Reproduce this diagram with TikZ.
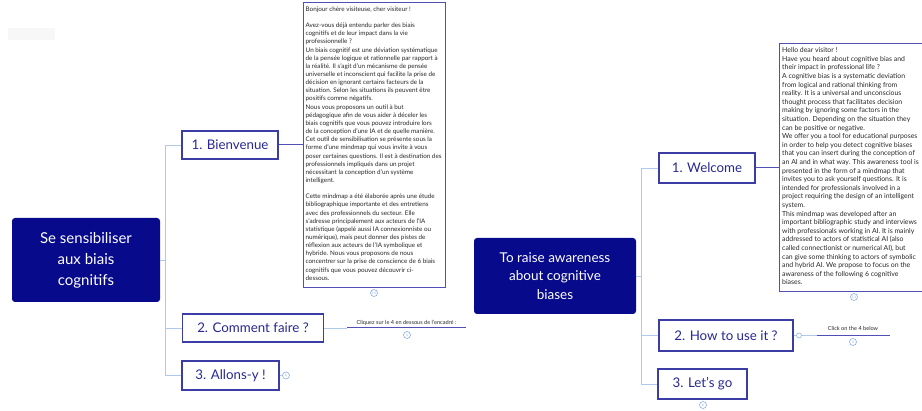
\documentclass[tikz,border=0pt]{standalone}
\usepackage{fontspec}
\setmainfont{Lato}
\definecolor{navy}{RGB}{8,10,140}
\definecolor{boxblue}{RGB}{60,60,165}
\definecolor{labelblue}{RGB}{40,40,150}
\definecolor{trunk}{RGB}{176,200,236}
\definecolor{textframe}{RGB}{80,80,180}
\definecolor{badgecol}{RGB}{140,175,230}
\definecolor{bodygray}{RGB}{40,40,40}
\tikzset{
 rootbox/.style={fill=navy, rounded corners=3pt, text=white, align=center, inner sep=0},
 branch/.style={draw=boxblue, line width=1.1pt, fill=white, text=labelblue, font=\fontsize{13.3}{15}\selectfont, inner sep=0},
 trunkline/.style={draw=trunk, line width=0.9pt},
 linkline/.style={draw=textframe, line width=1pt},
 frame/.style={draw=textframe, line width=1.2pt, fill=white, inner sep=0},
 bodytext/.style={anchor=north west, inner sep=0, align=left, text=bodygray},
 badge/.style={circle, draw=badgecol, line width=0.6pt, fill=white, minimum size=7pt, inner sep=0, text=badgecol, font=\fontsize{3.5}{4}\selectfont},
 hint/.style={font=\fontsize{5.6}{6}\selectfont, text=bodygray, inner sep=0},
}
\begin{document}
\begin{tikzpicture}[x=1pt,y=-1pt]
\useasboundingbox (0,0) rectangle (922,411);
\fill[black!3] (8,28) rectangle (55,40);

% ---------------- French tree ----------------
\coordinate (frT) at (165,0);
\node[rootbox, minimum width=148, minimum height=84, font=\fontsize{15}{21}\selectfont] (frroot) at (86,260) {Se sensibiliser\\aux biais\\cognitifs};
\node[branch, minimum width=96, minimum height=28] (frwel) at (230,145) {1. Bienvenue};
\node[branch, minimum width=141, minimum height=28] (frhow) at (253,328) {2. Comment faire ?};
\node[branch, minimum width=97, minimum height=29] (frgo) at (230.5,375.5) {3. Allons-y !};

\draw[trunkline] (frroot.east) -- (frroot.east -| frT);
\draw[trunkline] (frwel.west) -- (frwel.west -| frT) -- (frgo.west -| frT) -- (frgo.west);
\draw[trunkline] (frhow.west) -- (frhow.west -| frT);

\node[frame, minimum width=142, minimum height=285, anchor=north west] (frtext) at (303,2) {};
\draw[linkline] (frwel.east) -- (frtext.west |- frwel.east);
\node[bodytext, font=\fontsize{6.3}{8.15}\selectfont] (frbody) at (305.5,6.5) {Bonjour chère visiteuse, cher visiteur !\\[8.15pt]
Avez-vous déjà entendu parler des biais\\
cognitifs et de leur impact dans la vie\\
professionnelle ?\\
Un biais cognitif est une déviation systématique\\
de la pensée logique et rationnelle par rapport à\\
la réalité. Il s'agit d'un mécanisme de pensée\\
universelle et inconscient qui facilite la prise de\\
décision en ignorant certains facteurs de la\\
situation. Selon les situations ils peuvent être\\
positifs comme négatifs.\\
Nous vous proposons un outil à but\\
pédagogique afin de vous aider à déceler les\\
biais cognitifs que vous pouvez introduire lors\\
de la conception d'une IA et de quelle manière.\\
Cet outil de sensibilisation se présente sous la\\
forme d'une mindmap qui vous invite à vous\\
poser certaines questions. Il est à destination des\\
professionnels impliqués dans un projet\\
nécessitant la conception d'un système\\
intelligent.\\[8.15pt]
Cette mindmap a été élaborée après une étude\\
bibliographique importante et des entretiens\\
avec des professionnels du secteur. Elle\\
s'adresse principalement aux acteurs de l'IA\\
statistique (appelé aussi IA connexionniste ou\\
numérique), mais peut donner des pistes de\\
réflexion aux acteurs de l'IA symbolique et\\
hybride. Nous vous proposons de nous\\
concentrer sur la prise de conscience de 6 biais\\
cognitifs que vous pouvez découvrir ci-\\
dessous.};
\node[badge] (frb11) at (374,293) {11};

\coordinate (frhl) at (347,328);
\coordinate (frhr) at (466,328);
\draw[trunkline] (frhow.east) -- (frhl);
\draw[linkline] (frhl) -- (frhr);
\node[hint, anchor=south] (frhint) at (406.5,325.5) {Cliquez sur le 4 en dessous de l'encadré :};
\node[badge] (frb4) at (407,335) {4};
\node[badge] (frb6) at (286,375.5) {6};
\draw[trunkline] (frgo.east) -- (frb6.west);

% ---------------- English tree ----------------
\coordinate (enT) at (641,0);
\node[rootbox, minimum width=162, minimum height=76, font=\fontsize{13.5}{18.5}\selectfont] (enroot) at (555,276) {To raise awareness\\about cognitive\\biases};
\node[branch, minimum width=96, minimum height=30] (enwel) at (707,168) {1. Welcome};
\node[branch, minimum width=134, minimum height=31] (enhow) at (726,335.5) {2. How to use it ?};
\node[branch, minimum width=89, minimum height=30] (engo) at (702.5,384) {3. Let's go};

\draw[trunkline] (enroot.east) -- (enroot.east -| enT);
\draw[trunkline] (enwel.west) -- (enwel.west -| enT) -- (engo.west -| enT) -- (engo.west);
\draw[trunkline] (enhow.west) -- (enhow.west -| enT);

\node[frame, minimum width=151, minimum height=248, anchor=north west] (entext) at (779,43) {};
\draw[linkline] (enwel.east) -- (entext.west |- enwel.east);
\node[bodytext, font=\fontsize{6.9}{8.6}\selectfont] (enbody) at (782,47.5) {Hello dear visitor !\\
Have you heard about cognitive bias and\\
their impact in professional life ?\\
A cognitive bias is a systematic deviation\\
from logical and rational thinking from\\
reality. It is a universal and unconscious\\
thought process that facilitates decision\\
making by ignoring some factors in the\\
situation. Depending on the situation they\\
can be positive or negative.\\
We offer you a tool for educational purposes\\
in order to help you detect cognitive biases\\
that you can insert during the conception of\\
an AI and in what way. This awareness tool is\\
presented in the form of a mindmap that\\
invites you to ask yourself questions. It is\\
intended for professionals involved in a\\
project requiring the design of an intelligent\\
system.\\
This mindmap was developed after an\\
important bibliographic study and interviews\\
with professionals working in AI. It is mainly\\
addressed to actors of statistical AI (also\\
called connectionist or numerical AI), but\\
can give some thinking to actors of symbolic\\
and hybrid AI. We propose to focus on the\\
awareness of the following 6 cognitive\\
biases.};
\node[badge] (enb11) at (854,297) {11};

\node[circle, draw=badgecol, line width=0.6pt, fill=white, minimum size=5pt, inner sep=0] (enknob) at (799,335.5) {};
\draw[trunkline] (enhow.east) -- (enknob.west);
\coordinate (enhl) at (817,335.5);
\coordinate (enhr) at (890,335.5);
\draw[trunkline] (enknob.east) -- (enhl);
\draw[linkline] (enhl) -- (enhr);
\node[hint, anchor=south] (enhint) at (853,331) {Click on the 4 below};
\node[badge] (enb4) at (853,342) {4};
\node[badge] (enb6) at (703,405) {6};
\end{tikzpicture}
\end{document}
